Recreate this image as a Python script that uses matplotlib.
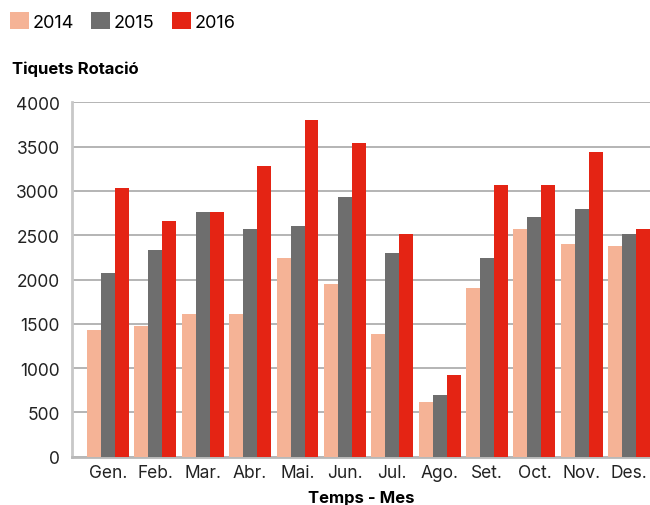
import matplotlib
matplotlib.use("Agg")
import matplotlib.pyplot as plt
from matplotlib.patches import Patch
import numpy as np

# data
months = ["Gen.", "Feb.", "Mar.", "Abr.", "Mai.", "Jun.",
          "Jul.", "Ago.", "Set.", "Oct.", "Nov.", "Des."]
years = ["2014", "2015", "2016"]
vals_2014 = [1432, 1474, 1610, 1610, 2241, 1948, 1384, 617, 1903, 2568, 2399, 2377]
vals_2015 = [2072, 2332, 2760, 2568, 2602, 2929, 2298, 696, 2241, 2704, 2794, 2512]
vals_2016 = [3031, 2659, 2760, 3279, 3798, 3539, 2512, 922, 3065, 3065, 3437, 2568]
y_ticks = [0, 500, 1000, 1500, 2000, 2500, 3000, 3500, 4000]

colors = ["#F5B396", "#6E6E6E", "#E42414"]

plt.rcParams["font.family"] = ["Inter", "DejaVu Sans"]

fig = plt.figure(figsize=(6.5, 5.06), dpi=100)
ax = fig.add_axes([0.1108, 0.0955, 0.8892, 0.7003])

x = np.arange(len(months))
width = 0.295
series = [vals_2014, vals_2015, vals_2016]
for i, (vals, col) in enumerate(zip(series, colors)):
    ax.bar(x + (i - 1) * width, vals, width, color=col, zorder=3, linewidth=0)

ax.set_xlim(-0.76, 11.44)
ax.set_ylim(0, 4000)
ax.set_yticks(y_ticks)
ax.set_xticks(x)
ax.set_xticklabels(months)
ax.tick_params(axis="both", length=0, labelsize=12.5, colors="#222222")
ax.tick_params(axis="y", pad=9)
ax.tick_params(axis="x", pad=5)

ax.grid(axis="y", color="#A8A8A8", linewidth=1.2, zorder=0)
ax.spines["top"].set_visible(False)
ax.spines["right"].set_visible(False)
ax.spines["left"].set_color("#C8C8C8")
ax.spines["left"].set_linewidth(2)
ax.spines["bottom"].set_color("#B8B8B8")
ax.spines["bottom"].set_linewidth(2)

ax.set_xlabel("Temps - Mes", fontsize=12, fontweight="bold", labelpad=7)
fig.text(0.018, 0.864, "Tiquets Rotació", fontsize=12, fontweight="bold",
         va="center", ha="left")

handles = [Patch(facecolor=c, edgecolor="none") for c in colors]
fig.legend(handles, years, loc="center left", bbox_to_anchor=(0.016, 0.956),
           ncol=3, frameon=False, fontsize=13, handlelength=1.05,
           handleheight=1.05, handletextpad=0.2, columnspacing=0.95,
           borderaxespad=0, borderpad=0)

fig.savefig("out.png", dpi=100)
